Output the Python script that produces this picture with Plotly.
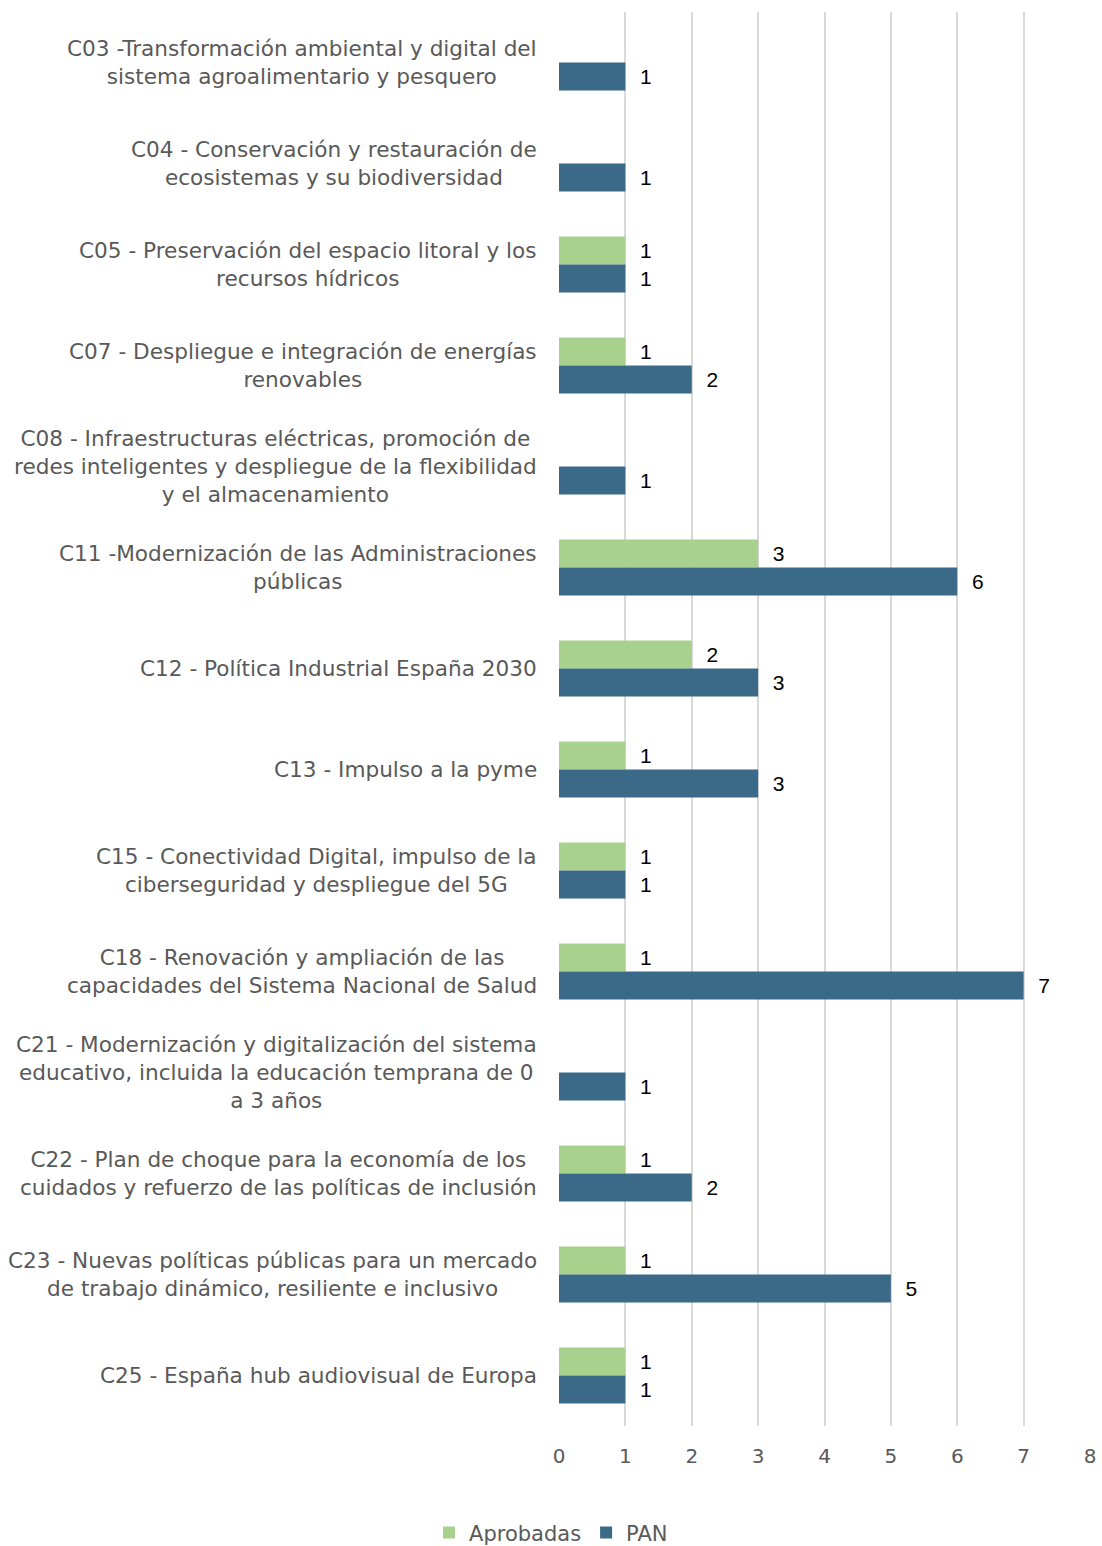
import plotly.graph_objects as go

categories = [
    "C03 -Transformación ambiental y digital del<br>sistema agroalimentario y pesquero",
    "C04 - Conservación y restauración de<br>ecosistemas y su biodiversidad",
    "C05 - Preservación del espacio litoral y los<br>recursos hídricos",
    "C07 - Despliegue e integración de energías<br>renovables",
    "C08 - Infraestructuras eléctricas, promoción de<br>redes inteligentes y despliegue de la flexibilidad<br>y el almacenamiento",
    "C11 -Modernización de las Administraciones<br>públicas",
    "C12 - Política Industrial España 2030",
    "C13 - Impulso a la pyme",
    "C15 - Conectividad Digital, impulso de la<br>ciberseguridad y despliegue del 5G",
    "C18 - Renovación y ampliación de las<br>capacidades del Sistema Nacional de Salud",
    "C21 - Modernización y digitalización del sistema<br>educativo, incluida la educación temprana de 0<br>a 3 años",
    "C22 - Plan de choque para la economía de los<br>cuidados y refuerzo de las políticas de inclusión",
    "C23 - Nuevas políticas públicas para un mercado<br>de trabajo dinámico, resiliente e inclusivo",
    "C25 - España hub audiovisual de Europa",
]
aprobadas = [None, None, 1, 1, None, 3, 2, 1, 1, 1, None, 1, 1, 1]
pan = [1, 1, 1, 2, 1, 6, 3, 3, 1, 7, 1, 2, 5, 1]
x_ticks = [0, 1, 2, 3, 4, 5, 6, 7, 8]

GREEN = "#A9D18E"
BLUE = "#3B6A89"
GREY = "#595959"
FONT = "DejaVu Sans"

fig = go.Figure()
fig.add_trace(go.Bar(
    name="Aprobadas", y=categories, x=aprobadas, orientation="h",
    marker=dict(color=GREEN, line=dict(width=0)),
    text=aprobadas, texttemplate="  %{x}", textposition="outside",
    textfont=dict(family="Liberation Sans", size=21, color="black"),
    cliponaxis=False,
))
fig.add_trace(go.Bar(
    name="PAN", y=categories, x=pan, orientation="h",
    marker=dict(color=BLUE, line=dict(width=0)),
    text=pan, texttemplate="  %{x}", textposition="outside",
    textfont=dict(family="Liberation Sans", size=21, color="black"),
    cliponaxis=False,
))

# category labels as centred multi-line annotations
for cat in categories:
    fig.add_annotation(
        x=0, xref="paper", y=cat, yref="y",
        text=cat, showarrow=False, xanchor="right", align="center",
        xshift=-20, font=dict(family=FONT, size=21.6, color=GREY),
    )

fig.update_layout(
    width=1102, height=1546,
    margin=dict(l=559, r=12, t=12, b=120, autoexpand=False),
    barmode="group", bargap=0.445, bargroupgap=0,
    plot_bgcolor="white", paper_bgcolor="white",
    legend=dict(
        orientation="h", x=-0.015, xanchor="center",
        y=-0.0755, yanchor="middle",
        font=dict(family=FONT, size=21, color=GREY),
        traceorder="normal",
    ),
    xaxis=dict(
        range=[0, 8], tickvals=x_ticks, showgrid=True, gridcolor="#D9D9D9",
        gridwidth=2, zeroline=False, showline=False,
        ticks="", ticklabelstandoff=16, ticklabeloverflow="allow",
        tickfont=dict(family=FONT, size=20, color=GREY),
    ),
    yaxis=dict(
        autorange="reversed", showticklabels=False, showgrid=False,
        zeroline=False, showline=False,
    ),
)

# figure fills the window exactly: no body margin, no scrollbars, no modebar
fig.write_html(
    "out.html",
    config={"displayModeBar": False},
    post_script="document.body.style.margin='0';"
                "document.documentElement.style.overflow='hidden';"
                "document.body.style.overflow='hidden';",
)
